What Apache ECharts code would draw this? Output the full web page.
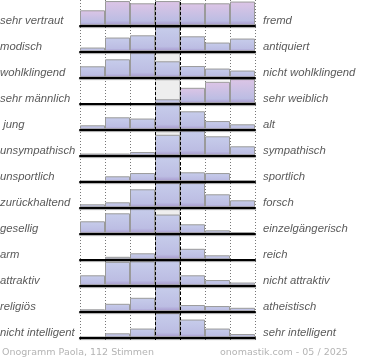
<!DOCTYPE html>
<html><head><meta charset="utf-8">
<script src="https://cdn.jsdelivr.net/npm/echarts@6/dist/echarts.min.js"></script>
<style>html,body{margin:0;padding:0;background:#fff}#c{width:370px;height:360px}</style>
</head><body><div id="c"></div>
<script>
// rating columns (1 = left attribute ... 7 = right attribute)
const categories = ['1','2','3','4','5','6','7'];
const leftLabels = ['sehr vertraut','modisch','wohlklingend','sehr männlich',' jung','unsympathisch','unsportlich','zurückhaltend','gesellig','arm','attraktiv','religiös','nicht intelligent'];
const rightLabels = ['fremd','antiquiert','nicht wohlklingend','sehr weiblich','alt','sympathisch','sportlich','forsch','einzelgängerisch','reich','nicht attraktiv','atheistisch','sehr intelligent'];
// relative bar heights per row (100 = full row height)
const vertraut     = [60, 97, 88, 97, 88, 88, 95];
const modisch      = [15, 55, 64, 98, 60, 35, 51];
const wohlklingend = [44, 72, 99, 64, 45, 35, 27];
const maennlich    = [0, 0, 0, 16, 62, 86, 98];
const jung         = [16, 48, 43, 100, 72, 33, 20];
const sympathisch  = [7, 7, 13, 82, 99, 76, 36];
const sportlich    = [2, 20, 33, 100, 36, 33, 4];
const forsch       = [12, 20, 72, 98, 98, 52, 28];
const gesellig     = [48, 80, 100, 75, 36, 12, 4];
const reich        = [0, 10, 24, 100, 42, 16, 0];
const attraktiv    = [40, 94, 96, 100, 40, 21, 11];
const religioes    = [8, 30, 54, 98, 25, 21, 14];
const intelligent  = [1, 16, 35, 97, 71, 35, 13];
const rows = [vertraut, modisch, wohlklingend, maennlich, jung, sympathisch, sportlich, forsch, gesellig, reich, attraktiv, religioes, intelligent];
// grey background value in the middle column (row index -> value)
const neutralRows = [2, 3, 5, 8];
const neutralValues = [98, 96, 96, 97];
// bars drawn in pink tone: [row, column]
const pinkBars = [[0,0],[0,1],[0,2],[0,3],[0,4],[0,5],[0,6],[3,4],[3,5],[3,6]];

const chart = echarts.init(document.getElementById('c'), null, {renderer:'canvas'});
const ROW_H = 26, BAR_H = 25, TOP0 = 0.3, LEFT = 80, W = 175;
const grad = (top) => new echarts.graphic.LinearGradient(0,0,0,1,[
  {offset:0,color:top},{offset:0.8,color:'#bcbde3'},{offset:1,color:'#a697cc'}]);
const blue = grad('#c7cdeb'), pink = grad('#ddc5e6');
const labelFont = 'italic 11.3px "Liberation Sans", Arial, sans-serif';

const grid = [], xAxis = [], yAxis = [], series = [], graphic = [];
rows.forEach((vals, i) => {
  const top = TOP0 + ROW_H * i;
  grid.push({left: LEFT, width: W, top: top, height: BAR_H});
  xAxis.push({type:'category', gridIndex:i, data:categories, boundaryGap:true, z:5,
    axisLine:{show:true, lineStyle:{color:'#000', width:2, shadowColor:'rgba(0,0,0,0.35)', shadowOffsetY:1, shadowBlur:1}}, axisTick:{show:false}, axisLabel:{show:false}, splitLine:{show:false}});
  yAxis.push({type:'value', gridIndex:i, min:0, max:100, show:false, splitLine:{show:false}});
  const k = neutralRows.indexOf(i);
  if (k >= 0) {
    series.push({type:'bar', xAxisIndex:i, yAxisIndex:i, barWidth:'100%', barGap:'-100%', z:1, silent:true,
      itemStyle:{color:'#eeeeee', borderColor:'#c8c8c8', borderWidth:1},
      data: categories.map((c, j) => j === 3 ? neutralValues[k] : null)});
  }
  series.push({type:'bar', xAxisIndex:i, yAxisIndex:i, barWidth:'100%', barGap:'-100%', z:2, silent:true,
    data: vals.map((v, j) => ({value:v, itemStyle:{
      color: pinkBars.some(p => p[0] === i && p[1] === j) ? pink : blue,
      borderColor:'#9a9a9a', borderWidth: v > 0 ? 1 : 0}}))});
  const cy = top + BAR_H - 5.5;
  graphic.push({type:'text', left:0, top:cy - 4.5, style:{text:leftLabels[i], font:labelFont, fill:'#5a5a5a'}});
  graphic.push({type:'text', left:263, top:cy - 4.5, style:{text:rightLabels[i], font:labelFont, fill:'#5a5a5a'}});
});
// overlay grid for the vertical column separators
const g = rows.length;
grid.push({left: LEFT, width: W, top: 0, height: 340});
xAxis.push({type:'value', gridIndex:g, min:0, max:7, interval:1, axisLine:{show:false}, axisTick:{show:false}, axisLabel:{show:false},
  splitLine:{show:true, lineStyle:{color:'#777', type:[1,2], width:1}}});
yAxis.push({type:'value', gridIndex:g, min:0, max:1, show:false, splitLine:{show:false}});
series.push({type:'scatter', xAxisIndex:g, yAxisIndex:g, data:[[0,0]], symbolSize:0, z:10, silent:true,
  markLine:{silent:true, symbol:'none', label:{show:false}, lineStyle:{color:'#000', type:[3,2], width:1},
    data:[{xAxis:3},{xAxis:4}]}});
graphic.push({type:'text', left:2, top:348, style:{text:'Onogramm Paola, 112 Stimmen', font:'9.5px "DejaVu Sans", sans-serif', fill:'#b4b4b4'}});
graphic.push({type:'text', left:220, top:348, style:{text:'onomastik.com - 05 / 2025', font:'9.5px "DejaVu Sans", sans-serif', fill:'#b4b4b4'}});

chart.setOption({animation:false, grid, xAxis, yAxis, series, graphic});
</script></body></html>
